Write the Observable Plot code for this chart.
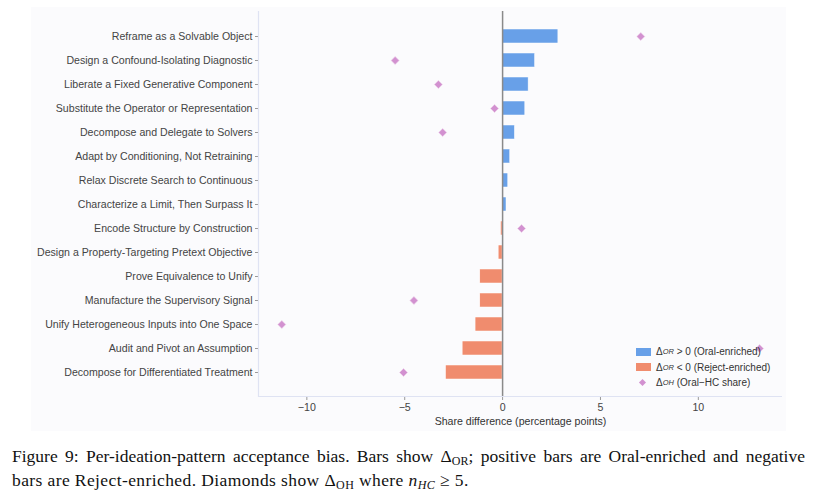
<!DOCTYPE html>
<html><head><meta charset="utf-8">
<script src="https://cdn.jsdelivr.net/npm/d3@7"></script>
<script src="https://cdn.jsdelivr.net/npm/@observablehq/plot@0.6"></script>
<style>
body{margin:0;background:#fff;}
#wrap{position:relative;width:828px;height:492px;overflow:hidden;background:#fff;}
#bg{position:absolute;left:31px;top:7px;width:755px;height:424px;background:#fbfbfd;}
#chart{position:absolute;left:0;top:0;}
#spineB{position:absolute;left:258px;top:396px;width:524px;height:1.2px;background:#dfe3f3;}
#legend{position:absolute;left:636px;top:344px;font-family:"Liberation Sans",Arial,sans-serif;font-size:10px;color:#333;line-height:15.5px;}
#legend .row{display:flex;align-items:center;height:15.5px;white-space:nowrap;}
#legend .sw{width:15px;height:8px;margin-right:5px;}
#legend .dm{width:15px;height:8px;margin-right:5px;position:relative;}
#legend .dm:after{content:"";position:absolute;left:4px;top:1px;width:5px;height:5px;background:#d291d0;transform:rotate(45deg);}
#legend sub{font-size:7.5px;font-style:italic;vertical-align:-2px;}
#caption{position:absolute;left:12px;top:447px;width:793px;font-family:"Liberation Serif","DejaVu Serif",serif;font-size:17.5px;color:#111;line-height:18.5px;}
#caption .l1{text-align:justify;text-align-last:justify;white-space:normal;}
#caption .l2{letter-spacing:0.4px;}
#caption sub{font-size:12px;vertical-align:-3px;}
</style>
</head><body>
<div id="wrap">
  <div id="bg"></div>
  <div id="chart"></div>
  <div id="spineB"></div>
  <div id="legend"></div>
  <div id="caption">
    <div class="l1">Figure 9: Per-ideation-pattern acceptance bias. Bars show Δ<sub>OR</sub>; positive bars are Oral-enriched and negative</div>
    <div class="l2">bars are Reject-enriched. Diamonds show Δ<sub>OH</sub> where <i>n</i><sub><i>HC</i></sub> ≥ 5.</div>
  </div>
</div>
<script>
const categories = [
  "Reframe as a Solvable Object",
  "Design a Confound-Isolating Diagnostic",
  "Liberate a Fixed Generative Component",
  "Substitute the Operator or Representation",
  "Decompose and Delegate to Solvers",
  "Adapt by Conditioning, Not Retraining",
  "Relax Discrete Search to Continuous",
  "Characterize a Limit, Then Surpass It",
  "Encode Structure by Construction",
  "Design a Property-Targeting Pretext Objective",
  "Prove Equivalence to Unify",
  "Manufacture the Supervisory Signal",
  "Unify Heterogeneous Inputs into One Space",
  "Audit and Pivot an Assumption",
  "Decompose for Differentiated Treatment"
];
const deltaOR = [2.85, 1.66, 1.33, 1.16, 0.63, 0.39, 0.29, 0.2, -0.08, -0.2, -1.14, -1.14, -1.38, -2.04, -2.89];
const deltaOH = [7.06, -5.49, -3.28, -0.41, -3.06, null, null, null, 0.97, null, null, -4.53, -11.28, 13.13, -5.06];
const xTicks = [-10, -5, 0, 5, 10];
const xLabel = "Share difference (percentage points)";
const legendLabels = ["&gt; 0 (Oral-enriched)", "&lt; 0 (Reject-enriched)", "(Oral\u2212HC share)"];

const posColor = "#68a0e8", negColor = "#f08c6e", diaColor = "#d291d0";

const bars = categories.map((c, i) => ({cat: c, v: deltaOR[i]}));
const dots = categories.map((c, i) => ({cat: c, v: deltaOH[i]})).filter(d => d.v !== null);

const chart = Plot.plot({
  width: 828,
  height: 432,
  marginLeft: 258,
  marginRight: 46,
  marginTop: 11,
  marginBottom: 35,
  style: {background: "transparent", fontFamily: "'Liberation Sans', Arial, sans-serif", fontSize: "10.6px", color: "#444"},
  x: {domain: [-12.47, 14.3]},
  y: {domain: categories, paddingInner: 0.42, paddingOuter: 0.75},
  marks: [
    Plot.barX(bars, {x: "v", y: "cat", fill: d => d.v >= 0 ? posColor : negColor, stroke: "#fff", strokeWidth: 0.5}),
    Plot.ruleX([0], {stroke: "#8a8a8a", strokeWidth: 1.5}),
    Plot.dot(dots, {x: "v", y: "cat", symbol: "diamond2", r: 3.6, fill: diaColor, stroke: "#ecd0ea", strokeWidth: 0.6}),
    Plot.axisY({tickSize: 3, tickPadding: 3, stroke: "#999", label: null, fill: "#444", fontSize: 10.6}),
    Plot.axisX({ticks: xTicks, tickSize: 3, tickPadding: 3, stroke: "#999", label: null, fill: "#444", fontSize: 10.6}),
    Plot.ruleX([-12.47], {stroke: "#dfe3f3", strokeWidth: 1.2}),
    Plot.text([xLabel], {frameAnchor: "bottom", dy: 27, fontSize: 10.6, fill: "#333"})
  ]
});
document.getElementById("chart").appendChild(chart);

const legend = document.getElementById("legend");
legend.innerHTML =
  `<div class="row"><div class="sw" style="background:${posColor}"></div>Δ<sub>OR</sub>&nbsp;${legendLabels[0]}</div>` +
  `<div class="row"><div class="sw" style="background:${negColor}"></div>Δ<sub>OR</sub>&nbsp;${legendLabels[1]}</div>` +
  `<div class="row"><div class="dm"></div>Δ<sub>OH</sub>&nbsp;${legendLabels[2]}</div>`;
</script>
</body></html>
